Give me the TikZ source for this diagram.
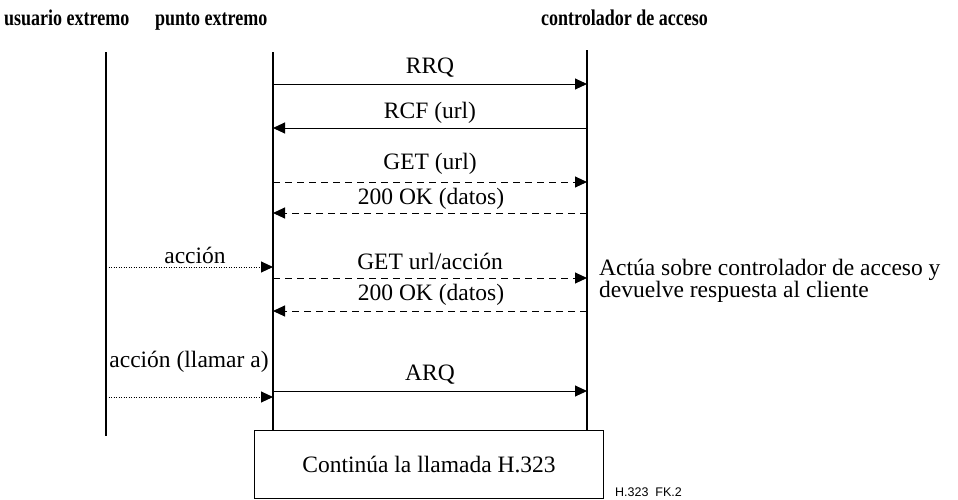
\documentclass[tikz,border=0pt]{standalone}
\usepackage{fontspec}
\setmainfont{Liberation Serif}
\newfontfamily\figsans{Liberation Sans}
\usetikzlibrary{arrows.meta}
\newcommand{\hdrtext}[1]{\scalebox{0.8}[1]{#1}}
\begin{document}
\begin{tikzpicture}[x=1pt,y=-1pt,
  life/.style={line width=1.1pt},
  msg/.style={line width=1pt,-{Triangle[length=12pt,width=11pt]}},
  rmsg/.style={msg, dash pattern=on 7pt off 5pt},
  usr/.style={line width=1pt, dash pattern=on 1pt off 1.5pt,-{Triangle[length=12pt,width=11pt]}},
  lbl/.style={font=\fontsize{23.5}{27}\selectfont, inner sep=0pt},
  hdr/.style={font=\fontsize{22.5}{25}\selectfont\bfseries, inner sep=0pt, anchor=base west}]
\path[use as bounding box] (0,0) rectangle (958,499);
% headers
\node[hdr] (hU) at (4,25) {\hdrtext{usuario extremo}};
\node[hdr] (hP) at (155,25) {\hdrtext{punto extremo}};
\node[hdr] (hC) at (541,25) {\hdrtext{controlador de acceso}};
% box
\node[draw, line width=1pt, minimum width=349pt, minimum height=68pt, anchor=north west, lbl] (box) at (254,430) {Continúa la llamada H.323};
\node[font=\figsans\fontsize{12.5}{14}\selectfont, anchor=base west, inner sep=0pt] (fig) at (615,496) {H.323\ \ FK.2};
% lifelines
\coordinate (uTop) at (106,52); \coordinate (uBot) at (106,436);
\coordinate (pTop) at (273,52); \coordinate (cTop) at (587,50);
\draw[life] (uTop) -- (uBot);
\draw[life] (pTop) -- (pTop |- box.north);
\draw[life] (cTop) -- (cTop |- box.north);
% message endpoints
\foreach \n/\y in {1/84,2/128,3/182,4/213,6/278,7/311,8/391}{
  \coordinate (p\n) at (273,\y);
  \coordinate (c\n) at (587,\y);
}
\coordinate (u5) at (106,267); \coordinate (p5) at (273,267);
\coordinate (u9) at (106,397); \coordinate (p9) at (273,397);
% messages
\draw[msg] (p1) -- (c1);
\draw[msg] (c2) -- (p2);
\draw[rmsg] (p3) -- (c3);
\draw[rmsg] (c4) -- (p4);
\draw[usr] (u5) -- (p5);
\draw[rmsg] (p6) -- (c6);
\draw[rmsg] (c7) -- (p7);
\draw[msg] (p8) -- (c8);
\draw[usr] (u9) -- (p9);
% labels
\node[lbl] (l1) at (430,68) {RRQ};
\node[lbl] (l2) at (430,113) {RCF (url)};
\node[lbl] (l3) at (430,164) {GET (url)};
\node[lbl] (l4) at (431,199) {200 OK (datos)};
\node[lbl] (l5) at (195,255) {acción};
\node[lbl] (l6) at (430,261) {GET url/acción};
\node[lbl] (l7) at (431,295) {200 OK (datos)};
\node[lbl] (l8) at (430,375) {ARQ};
\node[lbl] (l9) at (189,362) {acción (llamar a)};
\node[lbl, anchor=west, align=left, font=\fontsize{23.5}{22}\selectfont] (note) at (599,281) {Actúa sobre controlador de acceso y\\devuelve respuesta al cliente};
\end{tikzpicture}
\end{document}
